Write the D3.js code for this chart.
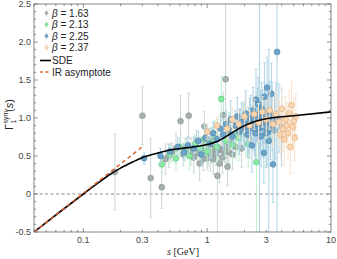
<!DOCTYPE html>
<html>
<head>
<meta charset="utf-8">
<script src="https://d3js.org/d3.v7.min.js"></script>
<style>
  body { margin: 0; background: #fff; }
  text { font-family: "Liberation Sans", Arial, sans-serif; }
</style>
</head>
<body>
<script>
// beta = 1.63
const s163 = [0.18, 0.30, 0.35, 0.43, 0.46, 0.49, 0.52, 0.56, 0.61, 0.64, 0.68, 0.71, 0.74, 0.78, 0.82, 0.87, 0.90, 0.95, 0.98, 1.02, 1.06, 1.10, 1.15, 1.21, 1.26, 1.30, 1.35, 1.41, 1.46, 1.50, 1.55, 1.60, 1.70, 1.80, 1.90, 2.00, 2.20, 2.40, 2.60, 2.80, 3.00, 1.00, 1.08, 1.12, 1.18, 1.24, 1.33, 1.38, 1.44, 0.84, 0.93]
const v163 = [0.29, 1.03, 0.21, 0.09, 0.46, 0.50, 0.55, 0.60, 0.96, 0.52, 0.62, 1.03, 0.56, 0.48, 0.70, 0.40, 0.60, 0.89, 0.66, 0.55, 0.50, 0.72, 0.62, 0.24, 0.40, 0.58, 1.04, 1.51, 0.36, 0.55, 0.70, 0.52, 0.62, 0.78, 0.60, 0.85, 0.72, 0.92, 0.80, 0.95, 0.88, 0.47, 0.58, 0.46, 0.53, 0.60, 0.48, 0.56, 0.62, 0.54, 0.46]
const e163 = [0.50, 0.38, 0.52, 0.28, 0.20, 0.15, 0.12, 0.20, 0.34, 0.15, 0.12, 0.30, 0.18, 0.20, 0.14, 0.22, 0.15, 0.20, 0.12, 0.18, 0.20, 0.15, 0.20, 0.74, 0.25, 0.18, 0.30, 1.00, 0.25, 0.15, 0.20, 0.20, 0.15, 0.20, 0.25, 0.20, 0.25, 0.20, 0.30, 0.30, 0.35, 0.15, 0.18, 0.20, 0.15, 0.18, 0.20, 0.15, 0.20, 0.12, 0.15]

// beta = 2.13
const s213 = [0.43, 0.50, 0.56, 0.60, 0.66, 0.72, 0.80, 0.88, 0.95, 1.00, 1.08, 1.15, 1.20, 1.30, 1.40, 1.50, 1.60, 1.73, 1.80, 1.95, 2.05, 2.15, 2.30, 2.50, 2.64, 2.80, 3.00, 3.30]
const v213 = [0.39, 0.52, 0.47, 0.62, 0.58, 0.50, 0.66, 0.60, 0.72, 0.56, 0.68, 0.78, 0.62, 1.25, 0.70, 0.82, 0.65, 0.78, 0.74, 0.95, 0.80, 0.66, 0.88, 0.42, 1.21, 0.90, 0.75, 0.98]
const e213 = [0.10, 0.12, 0.15, 0.10, 0.15, 0.18, 0.12, 0.15, 0.20, 0.15, 0.20, 0.18, 0.20, 0.30, 0.20, 0.25, 0.20, 0.25, 0.30, 0.25, 0.30, 0.30, 0.30, 0.92, 0.50, 0.35, 0.40, 0.30]

// beta = 2.25
const s225 = [0.31, 0.42, 0.50, 0.58, 0.65, 0.70, 0.78, 0.85, 0.90, 0.97, 1.05, 1.12, 1.20, 1.28, 1.35, 1.42, 1.50, 1.55, 1.60, 1.68, 1.75, 1.82, 1.90, 1.98, 2.05, 2.12, 2.20, 2.30, 2.35, 2.42, 2.50, 2.58, 2.65, 2.72, 2.80, 2.87, 2.95, 3.05, 3.10, 3.15, 3.20, 3.30, 3.40, 3.67, 3.80, 4.00,
              1.85, 2.00, 2.15, 2.25, 2.38, 2.46, 2.55, 2.62, 2.70, 2.76, 2.84, 2.92, 3.00, 3.08, 3.25, 3.35, 3.50, 3.60, 2.48, 2.90]
const v225 = [0.47, 0.50, 0.56, 0.62, 0.55, 0.64, 0.60, 0.70, 0.52, 0.74, 0.66, 0.80, 0.72, 0.86, 0.78, 0.92, 0.84, 0.98, 0.76, 0.90, 1.02, 0.82, 0.95, 0.88, 1.06, 0.78, 0.96, 0.64, 1.10, 0.86, 0.98, 1.18, 0.90, 0.76, 1.02, 0.54, 0.95, 1.40, 0.82, 0.70, 1.08, 1.32, 0.39, 1.87, 1.00, 0.88,
              0.86, 0.92, 0.84, 1.00, 0.92, 0.80, 1.04, 0.86, 0.96, 1.12, 0.88, 1.06, 0.80, 0.98, 0.90, 1.02, 0.84, 0.96, 1.24, 1.28]
const e225 = [0.08, 0.10, 0.10, 0.12, 0.10, 0.12, 0.15, 0.12, 0.15, 0.15, 0.20, 0.15, 0.20, 0.15, 0.20, 0.18, 0.20, 0.25, 0.25, 0.20, 0.25, 0.30, 0.25, 0.30, 0.30, 0.30, 0.30, 0.35, 0.30, 0.35, 0.30, 0.35, 1.60, 0.40, 0.35, 0.40, 0.40, 0.40, 0.45, 1.20, 0.40, 0.40, 0.50, 2.40, 0.45, 0.50,
              0.25, 0.30, 0.30, 0.30, 0.35, 0.35, 0.35, 0.40, 0.40, 0.35, 0.40, 0.40, 0.45, 0.40, 0.45, 0.45, 0.45, 0.50, 0.40, 0.45]

// beta = 2.37
const s237 = [1.00, 1.20, 1.45, 1.60, 1.80, 2.00, 2.20, 2.40, 2.60, 2.80, 3.00, 3.20, 3.40, 3.60, 3.80, 3.90, 4.00, 4.10, 4.20, 4.30, 4.40, 4.50, 4.60, 4.70, 4.80, 4.90, 5.00, 5.10, 5.20]
const v237 = [0.82, 0.90, 0.86, 0.98, 0.92, 1.02, 0.90, 1.05, 0.94, 1.08, 0.98, 1.10, 0.92, 1.05, 0.95, 0.78, 1.12, 0.86, 0.72, 0.98, 0.90, 0.80, 1.06, 0.62, 1.17, 0.88, 0.96, 0.74, 1.02]
const e237 = [0.10, 0.12, 0.15, 0.15, 0.18, 0.20, 0.20, 0.20, 0.25, 0.20, 0.25, 0.25, 0.30, 0.30, 0.30, 0.30, 0.30, 0.30, 0.35, 0.30, 0.30, 0.35, 0.30, 0.35, 0.30, 0.30, 0.30, 0.30, 0.30]

// SDE curve and IR asymptote
const sdeS = [0.04, 0.063, 0.1, 0.13, 0.165, 0.2, 0.25, 0.3, 0.4, 0.5, 0.7, 1.0, 1.2, 1.5, 1.8, 2.4, 3.0, 5.0, 10.0]
const sdeV = [-0.5, -0.25, 0.0, 0.14, 0.26, 0.34, 0.42, 0.48, 0.54, 0.58, 0.61, 0.65, 0.69, 0.78, 0.86, 0.95, 0.99, 1.03, 1.08]
const irS = [0.04, 0.31]
const irV = [-0.5, 0.64]

const xTicks = [0.1, 0.3, 1, 3, 10]
const xTickLabels = ["0.1", "0.3", "1", "3", "10"]
const yTicks = [-0.5, 0, 0.5, 1.0, 1.5, 2.0, 2.5]
const yTickLabels = ["-0.5", "0", "0.5", "1.0", "1.5", "2.0", "2.5"]

const series = [
  {label: "1.63", s: s163, v: v163, e: e163, fill: "#a6b1b1", stroke: "#808c8c", err: "#cbd6d6"},
  {label: "2.13", s: s213, v: v213, e: e213, fill: "#86ec9e", stroke: "#55c078", err: "#bdf2cc"},
  {label: "2.25", s: s225, v: v225, e: e225, fill: "#6ca4ca", stroke: "#4a82aa", err: "#acd2e6"},
  {label: "2.37", s: s237, v: v237, e: e237, fill: "#fbd8b2", stroke: "#d9a476", err: "#fbe3cb"}
]

const W = 337, H = 259
const m = {left: 34, right: 331, top: 4, bottom: 232}

const x = d3.scaleLog().domain([0.04, 10]).range([m.left, m.right])
const y = d3.scaleLinear().domain([-0.5, 2.5]).range([m.bottom, m.top])

const svg = d3.select("body").append("svg")
  .attr("width", W).attr("height", H)

svg.append("clipPath").attr("id", "clip")
  .append("rect").attr("x", m.left).attr("y", m.top)
  .attr("width", m.right - m.left).attr("height", m.bottom - m.top)
const plot = svg.append("g").attr("clip-path", "url(#clip)")

// zero line
plot.append("line")
  .attr("x1", m.left).attr("x2", m.right)
  .attr("y1", y(0)).attr("y2", y(0))
  .attr("stroke", "#8a8a8a").attr("stroke-width", 1)
  .attr("stroke-dasharray", "3,2.5")

// error bars, then points
series.forEach(sr => {
  const pts = sr.s.map((s, i) => ({s: s, v: sr.v[i], e: sr.e[i]}))
  const g = plot.append("g")
  g.selectAll(".eb").data(pts).enter().append("line")
    .attr("x1", d => x(d.s)).attr("x2", d => x(d.s))
    .attr("y1", d => y(d.v - d.e)).attr("y2", d => y(d.v + d.e))
    .attr("stroke", sr.err).attr("stroke-width", 1)
  g.selectAll(".cap").data(pts.flatMap(d => [d.v - d.e, d.v + d.e].map(t => ({s: d.s, t: t}))))
    .enter().append("line")
    .attr("x1", d => x(d.s) - 1.5).attr("x2", d => x(d.s) + 1.5)
    .attr("y1", d => y(d.t)).attr("y2", d => y(d.t))
    .attr("stroke", sr.err).attr("stroke-width", 0.8)
  sr.g = g
  sr.pts = pts
})
series.forEach(sr => {
  sr.g.selectAll("circle").data(sr.pts).enter().append("circle")
    .attr("cx", d => x(d.s)).attr("cy", d => y(d.v)).attr("r", 2.9)
    .attr("fill", sr.fill).attr("stroke", sr.stroke).attr("stroke-width", 0.6)
})

// SDE
plot.append("path")
  .attr("d", d3.line().curve(d3.curveMonotoneX)(sdeS.map((s, i) => [x(s), y(sdeV[i])])))
  .attr("fill", "none").attr("stroke", "#000").attr("stroke-width", 1.6)

plot.append("path")
  .attr("d", d3.line()(irS.map((s, i) => [x(s), y(irV[i])])))
  .attr("fill", "none").attr("stroke", "#e2622c").attr("stroke-width", 1.4)
  .attr("stroke-dasharray", "4,3")

// frame
const axisCol = "#666"
svg.append("rect")
  .attr("x", m.left).attr("y", m.top)
  .attr("width", m.right - m.left).attr("height", m.bottom - m.top)
  .attr("fill", "none").attr("stroke", axisCol).attr("stroke-width", 0.8)

// ticks
const xMinor = []
for (let d = 0.01; d < 10; d *= 10) {
  for (let k = 1; k <= 9; k++) {
    const v = d * k
    if (v >= 0.04 && v <= 10) xMinor.push(v)
  }
}
const ticks = svg.append("g").attr("stroke", axisCol).attr("stroke-width", 0.7)
xMinor.forEach(v => {
  const major = [0.1, 1, 10].includes(+v.toFixed(3))
  const len = major ? 4 : 2.2
  ticks.append("line").attr("x1", x(v)).attr("x2", x(v))
    .attr("y1", m.bottom).attr("y2", m.bottom - len)
  ticks.append("line").attr("x1", x(v)).attr("x2", x(v))
    .attr("y1", m.top).attr("y2", m.top + len)
})
d3.range(-0.5, 2.501, 0.1).forEach(v => {
  const major = Math.abs(v * 2 - Math.round(v * 2)) < 1e-6
  const len = major ? 4 : 2.2
  ticks.append("line").attr("y1", y(v)).attr("y2", y(v))
    .attr("x1", m.left).attr("x2", m.left + len)
  ticks.append("line").attr("y1", y(v)).attr("y2", y(v))
    .attr("x1", m.right).attr("x2", m.right - len)
})

svg.selectAll(".xl").data(xTicks).enter().append("text")
  .attr("x", d => x(d)).attr("y", m.bottom + 11)
  .attr("text-anchor", "middle").attr("font-size", 9).attr("fill", "#444")
  .text((d, i) => xTickLabels[i])
svg.selectAll(".yl").data(yTicks).enter().append("text")
  .attr("x", m.left - 3).attr("y", d => y(d) + 3.2)
  .attr("text-anchor", "end").attr("font-size", 9).attr("fill", "#444")
  .text((d, i) => yTickLabels[i])

// axis labels
const xl = svg.append("text").attr("x", 183).attr("y", 255)
  .attr("text-anchor", "middle").attr("font-size", 10).attr("fill", "#222")
  .style("font-family", "'Liberation Serif', serif")
xl.append("tspan").attr("font-style", "italic").text("s")
xl.append("tspan").text(" [GeV]")

const yl = svg.append("g").attr("transform", "translate(13,130) rotate(-90)")
  .style("font-family", "'Liberation Serif', serif").attr("fill", "#222")
yl.append("text").attr("x", 0).attr("y", 0).attr("font-size", 11).text("Γ")
yl.append("text").attr("x", 6.5).attr("y", 3).attr("font-size", 7).text("1")
yl.append("text").attr("x", 6.5).attr("y", -5).attr("font-size", 7).text("sym")
const ys = yl.append("text").attr("x", 18).attr("y", 0).attr("font-size", 11)
ys.append("tspan").text("(")
ys.append("tspan").attr("font-style", "italic").text("s")
ys.append("tspan").text(")")

// legend
const lg = svg.append("g").style("font-family", "'Liberation Serif', serif")
series.forEach((sr, i) => {
  const ly = 13 + i * 11.5
  lg.append("line").attr("x1", 46.5).attr("x2", 46.5).attr("y1", ly - 3.5).attr("y2", ly + 3.5)
    .attr("stroke", sr.err).attr("stroke-width", 1)
  lg.append("circle").attr("cx", 46.5).attr("cy", ly).attr("r", 1.6)
    .attr("fill", sr.fill).attr("stroke", sr.stroke).attr("stroke-width", 0.4)
  const t = lg.append("text").attr("x", 52).attr("y", ly + 3.5).attr("font-size", 10).attr("fill", "#222")
  t.append("tspan").attr("font-style", "italic").text("β")
  t.append("tspan").text(" = " + sr.label)
})
lg.append("line").attr("x1", 40).attr("x2", 51).attr("y1", 60.5).attr("y2", 60.5)
  .attr("stroke", "#000").attr("stroke-width", 1.6)
lg.append("text").attr("x", 52).attr("y", 64).attr("font-size", 10).attr("fill", "#222").text("SDE")
lg.append("line").attr("x1", 40).attr("x2", 51).attr("y1", 72).attr("y2", 72)
  .attr("stroke", "#e2622c").attr("stroke-width", 1.4).attr("stroke-dasharray", "3,2.5")
lg.append("text").attr("x", 52).attr("y", 75.5).attr("font-size", 10).attr("fill", "#222").text("IR asymptote")
</script>
</body>
</html>
